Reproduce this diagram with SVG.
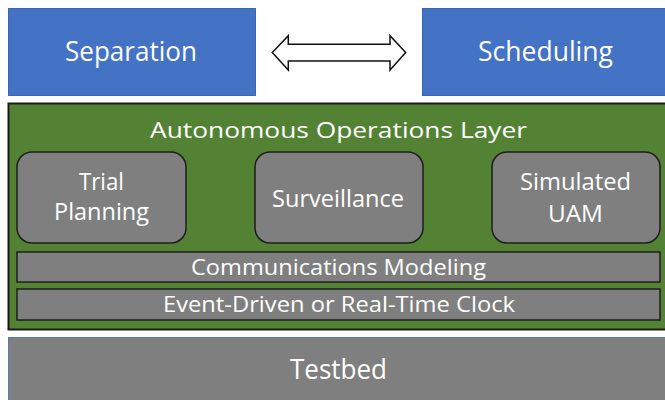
<svg xmlns="http://www.w3.org/2000/svg" width="665" height="400" viewBox="0 0 665 400">
<style>
.t{font-family:"Open Sans","Noto Sans","DejaVu Sans",sans-serif;fill:#ffffff;text-anchor:middle}
.blue{fill:#4472C4;stroke:#3A64AE;stroke-width:1}
.gray{fill:#7F7F7F;stroke:#1E1E1E;stroke-width:1.5}
</style>
<rect width="665" height="400" fill="#ffffff"/>
<g id="separation">
<rect class="blue" x="8.5" y="8.5" width="247" height="87"/>
<text class="t" x="131" y="61" font-size="27" textLength="132" lengthAdjust="spacingAndGlyphs">Separation</text>
</g>
<g id="scheduling">
<rect class="blue" x="422.5" y="8.5" width="245" height="87"/>
<text class="t" x="545.5" y="61" font-size="27" textLength="135" lengthAdjust="spacingAndGlyphs">Scheduling</text>
</g>
<g id="connectors">
<path d="M272.3,52.5 L288.3,35.7 L288.3,44.3 L390,44.3 L390,35.7 L405.7,52.5 L390,70 L390,61 L288.3,61 L288.3,70 Z" fill="#ffffff" stroke="#111111" stroke-width="1.5" stroke-linejoin="miter"/>
</g>
<g id="autonomous-operations-layer">
<rect x="8.5" y="103.5" width="660" height="226" fill="#548235" stroke="#1A1A1A" stroke-width="2"/>
<text class="t" x="338.5" y="138.3" font-size="22.5" textLength="377" lengthAdjust="spacingAndGlyphs">Autonomous Operations Layer</text>
</g>
<g id="trial-planning">
<rect class="gray" x="17" y="152" width="169" height="91" rx="15" ry="15"/>
<text class="t" x="101.5" y="190" font-size="23" textLength="45" lengthAdjust="spacingAndGlyphs">Trial</text>
<text class="t" x="101.5" y="220.3" font-size="23" textLength="95" lengthAdjust="spacingAndGlyphs">Planning</text>
</g>
<g id="surveillance">
<rect class="gray" x="255" y="152" width="168" height="91" rx="15" ry="15"/>
<text class="t" x="338" y="206.5" font-size="23" textLength="132" lengthAdjust="spacingAndGlyphs">Surveillance</text>
</g>
<g id="simulated-uam">
<rect class="gray" x="492" y="152" width="168" height="91" rx="15" ry="15"/>
<text class="t" x="575.5" y="190" font-size="23" textLength="111" lengthAdjust="spacingAndGlyphs">Simulated</text>
<text class="t" x="575.5" y="222" font-size="23" textLength="55" lengthAdjust="spacingAndGlyphs">UAM</text>
</g>
<g id="communications-modeling">
<rect class="gray" x="17" y="252" width="643" height="30"/>
<text class="t" x="338.5" y="275" font-size="22" textLength="295" lengthAdjust="spacingAndGlyphs">Communications Modeling</text>
</g>
<g id="clock">
<rect class="gray" x="17" y="289" width="643" height="31"/>
<text class="t" x="339" y="312.3" font-size="22" textLength="352" lengthAdjust="spacingAndGlyphs">Event-Driven or Real-Time Clock</text>
</g>
<g id="testbed">
<rect x="8.5" y="337.5" width="660" height="70" fill="#7F7F7F" stroke="#5B7BB5" stroke-width="1"/>
<text class="t" x="338.5" y="379.3" font-size="27" textLength="97" lengthAdjust="spacingAndGlyphs">Testbed</text>
</g>
</svg>
